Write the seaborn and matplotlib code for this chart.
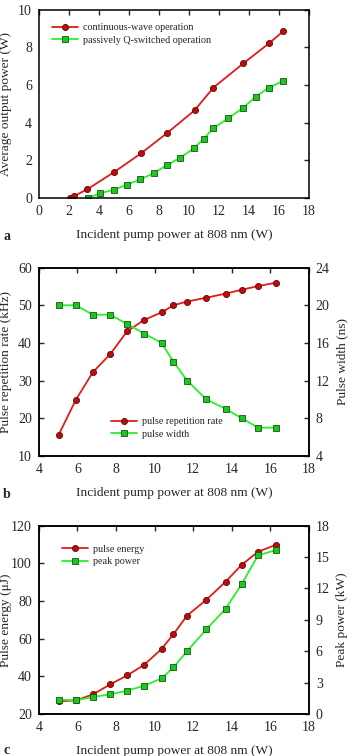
import matplotlib
matplotlib.use("Agg")
import matplotlib.pyplot as plt
import numpy as np
import pandas as pd
import seaborn as sns

# DATA
# panel a
cw_pump = [2.07, 2.33, 3.22, 5.0, 6.82, 8.56, 10.38, 11.64, 13.64, 15.36, 16.27]
cw_power = [0.0, 0.1, 0.46, 1.37, 2.38, 3.46, 4.66, 5.87, 7.16, 8.23, 8.85]
qs_pump = [3.31, 4.07, 4.98, 5.87, 6.76, 7.67, 8.56, 9.44, 10.33, 10.98, 11.64, 12.64, 13.62, 14.47, 15.33, 16.27]
qs_power = [0.0, 0.25, 0.44, 0.71, 0.99, 1.33, 1.76, 2.15, 2.64, 3.14, 3.72, 4.24, 4.80, 5.39, 5.87, 6.21]

# panels b and c share pump points
pump = [5.02, 5.92, 6.80, 7.70, 8.58, 9.46, 10.36, 10.98, 11.69, 12.68, 13.68, 14.51, 15.37, 16.30]
rep_rate = [15.5, 24.9, 32.2, 37.0, 43.1, 46.1, 48.1, 50.0, 51.0, 52.0, 53.1, 54.1, 55.1, 56.0]
pulse_width = [20.0, 20.0, 19.0, 19.0, 18.0, 17.0, 16.0, 14.0, 12.0, 10.0, 9.0, 8.0, 7.0, 7.0]
pulse_energy = [26.7, 27.2, 30.4, 35.7, 40.5, 46.1, 54.5, 62.4, 72.3, 80.6, 90.2, 99.2, 106.2, 109.9]
peak_power = [1.37, 1.30, 1.62, 1.88, 2.23, 2.70, 3.40, 4.45, 6.01, 8.08, 10.05, 12.40, 15.17, 15.68]

# STYLE
sns.set_style("white")
plt.rcParams['font.family'] = ['Liberation Serif', 'DejaVu Serif']
plt.rcParams['mathtext.fontset'] = 'stix'

RED = '#e31a1a'
RED_FACE = '#b50f0f'
RED_EDGE = '#6e0000'
GREEN = '#2af02a'
GREEN_FACE = '#22c422'
GREEN_EDGE = '#0a5a0a'

red_kw = dict(color=RED, marker='o', markersize=4.4, markerfacecolor=RED_FACE,
              markeredgecolor=RED_EDGE, markeredgewidth=0.6, linewidth=1.3)
green_kw = dict(color=GREEN, marker='s', markersize=4.0, markerfacecolor=GREEN_FACE,
                markeredgecolor=GREEN_EDGE, markeredgewidth=0.6, linewidth=1.3)

TICK_FS = 10
LABEL_FS = 9.6
LEG_FS = 7.3
leg_kw = dict(frameon=False, fontsize=LEG_FS, handlelength=2.6, handletextpad=0.45,
              labelspacing=0.35, borderpad=0, borderaxespad=0, loc='upper left')

fig = plt.figure(figsize=(3.53, 7.56), dpi=100)
L, W, H = 0.110, 0.765, 0.249
ax_a = fig.add_axes([L, 0.738, W, H])
ax_b = fig.add_axes([L, 0.397, W, H])
ax_c = fig.add_axes([L, 0.0556, W, H])


def style_ax(ax, mirror=True):
    for s in ax.spines.values():
        s.set_linewidth(1.1)
        s.set_color('black')
    ax.tick_params(direction='in', length=3.5, width=1.0, labelsize=TICK_FS,
                   top=True, right=mirror, pad=5)


def place_labels(ax, ax2=None):
    ax.yaxis.set_label_coords(-0.098, 0.5)
    if ax2 is not None:
        ax2.yaxis.set_label_coords(1.102, 0.5)


# PANEL A
sns.lineplot(x=cw_pump, y=cw_power, ax=ax_a, label='continuous-wave operation', **red_kw)
sns.lineplot(x=qs_pump, y=qs_power, ax=ax_a, label='passively Q-switched operation', **green_kw)
ax_a.set_xlim(0, 18)
ax_a.set_ylim(0, 10)
ax_a.set_xticks(np.arange(0, 19, 2))
ax_a.set_yticks(np.arange(0, 11, 2))
ax_a.set_xlabel('Incident pump power at 808 nm (W)', fontsize=LABEL_FS, labelpad=8)
ax_a.set_ylabel('Average output power (W)', fontsize=LABEL_FS)
style_ax(ax_a)
place_labels(ax_a)
ax_a.legend(bbox_to_anchor=(0.048, 0.93), **leg_kw)

# PANEL B
sns.lineplot(x=pump, y=rep_rate, ax=ax_b, **red_kw)
ax_b2 = ax_b.twinx()
sns.lineplot(x=pump, y=pulse_width, ax=ax_b2, **green_kw)
ax_b.set_xlim(4, 18)
ax_b.set_ylim(10, 60)
ax_b2.set_ylim(4, 24)
ax_b.set_xticks(np.arange(4, 19, 2))
ax_b.set_yticks(np.arange(10, 61, 10))
ax_b2.set_yticks(np.arange(4, 25, 4))
ax_b.set_xlabel('Incident pump power at 808 nm (W)', fontsize=LABEL_FS, labelpad=8)
ax_b.set_ylabel('Pulse repetition rate (kHz)', fontsize=LABEL_FS)
ax_b2.set_ylabel('Pulse width (ns)', fontsize=LABEL_FS)
style_ax(ax_b, mirror=False)
style_ax(ax_b2, mirror=False)
ax_b2.tick_params(left=False, right=True)
place_labels(ax_b, ax_b2)
hb = [ax_b.get_lines()[0], ax_b2.get_lines()[0]]
ax_b2.legend(hb, ['pulse repetition rate', 'pulse width'],
             bbox_to_anchor=(0.267, 0.205), **leg_kw)

# PANEL C
sns.lineplot(x=pump, y=pulse_energy, ax=ax_c, **red_kw)
ax_c2 = ax_c.twinx()
sns.lineplot(x=pump, y=peak_power, ax=ax_c2, **green_kw)
ax_c.set_xlim(4, 18)
ax_c.set_ylim(20, 120)
ax_c2.set_ylim(0, 18)
ax_c.set_xticks(np.arange(4, 19, 2))
ax_c.set_yticks(np.arange(20, 121, 20))
ax_c2.set_yticks(np.arange(0, 19, 3))
ax_c.set_xlabel('Incident pump power at 808 nm (W)', fontsize=LABEL_FS, labelpad=8)
ax_c.set_ylabel('Pulse energy (μJ)', fontsize=LABEL_FS)
ax_c2.set_ylabel('Peak power (kW)', fontsize=LABEL_FS)
style_ax(ax_c, mirror=False)
style_ax(ax_c2, mirror=False)
ax_c2.tick_params(left=False, right=True)
place_labels(ax_c, ax_c2)
hc = [ax_c.get_lines()[0], ax_c2.get_lines()[0]]
ax_c2.legend(hc, ['pulse energy', 'peak power'],
             bbox_to_anchor=(0.085, 0.9), **leg_kw)

# panel letters
for letter, ypx in [('a', 236), ('b', 494), ('c', 751)]:
    fig.text(3 / 353, 1 - ypx / 756, letter, fontsize=10, fontweight='bold',
             va='center', ha='left')

fig.savefig('out.png', dpi=100)
